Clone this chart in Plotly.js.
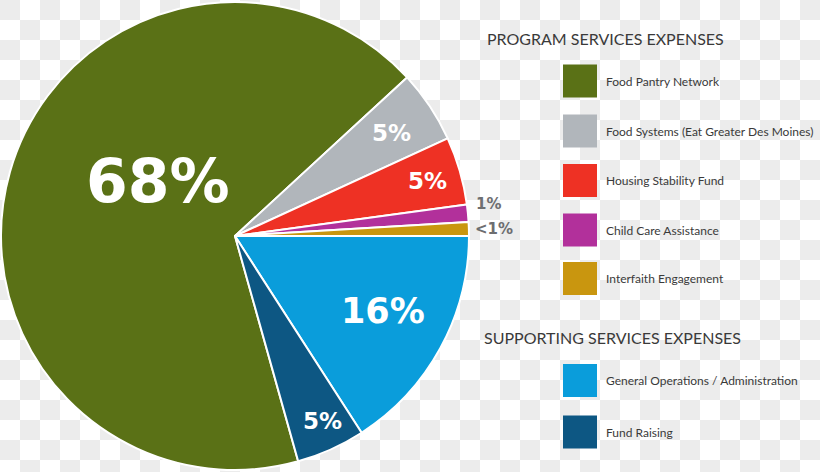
<!DOCTYPE html>
<html>
<head>
<meta charset="utf-8">
<script src="https://cdn.plot.ly/plotly-3.0.1.min.js"></script>
<style>
  html, body { margin: 0; padding: 0; }
  body {
    width: 820px; height: 472px; overflow: hidden;
    background-color: #ffffff;
    background-image: conic-gradient(#ffffff 0 25%, #ececec 0 50%, #ffffff 0 75%, #ececec 0);
    background-size: 40px 40px;
  }
  #chart { width: 820px; height: 472px; }
</style>
</head>
<body>
<div id="chart"></div>
<script>
// ---- Data ----
var categories = [
  "Food Pantry Network",
  "Food Systems (Eat Greater Des Moines)",
  "Housing Stability Fund",
  "Child Care Assistance",
  "Interfaith Engagement",
  "General Operations / Administration",
  "Fund Raising"
];
var values = [67.5, 5.0, 4.7, 1.2, 0.95, 15.9, 4.75];
var sliceLabels = ["68%", "5%", "5%", "1%", "<1%", "16%", "5%"];
var colors = ["#5a7116", "#b1b6bb", "#ee3124", "#b2309b", "#c9960f", "#0a9ddb", "#0d5783"];
var groups = ["PROGRAM SERVICES EXPENSES", "SUPPORTING SERVICES EXPENSES"];
var groupOf = [0, 0, 0, 0, 0, 1, 1];

// ---- Layout helpers ----
var W = 820, H = 472;
function px(x) { return x / W; }
function py(y) { return 1 - y / H; }

// rotation so that the program/supporting boundary sits at 3 o'clock
var total = values.reduce(function (a, b) { return a + b; }, 0);
var cumProgram = 0;
for (var i = 0; i < values.length; i++) if (groupOf[i] === 0) cumProgram += values[i];
var rot = 90 - 360 * cumProgram / total;
while (rot < -180) rot += 360;
while (rot > 180) rot -= 360;

var trace = {
  type: "pie",
  labels: categories,
  values: values,
  textinfo: "none",
  sort: false,
  direction: "clockwise",
  rotation: rot,
  marker: { colors: colors, line: { color: "#ffffff", width: 2 } },
  domain: { x: [px(1), px(469)], y: [py(470), py(2)] },
  showlegend: false,
  hoverinfo: "label+percent"
};

// ---- Slice labels (placement style) ----
var labelPos = [[158, 181], [391, 133], [427, 181], [488, 204], [494, 229], [383, 311], [322, 421]];
var labelSize = [60, 23, 23, 15, 15, 35, 23];
var shapes = [], annotations = [];
sliceLabels.forEach(function (t, k) {
  var outside = values[k] < 2;
  annotations.push({
    xref: "paper", yref: "paper", x: px(labelPos[k][0]), y: py(labelPos[k][1]),
    xanchor: "center", yanchor: "middle", showarrow: false, text: t,
    font: { family: "DejaVu Sans", size: labelSize[k], weight: "bold",
            color: outside ? "#6d6e71" : "#ffffff" }
  });
});

// ---- Custom legend (swatches + labels) ----
var headerY = [38, 337];
var headerX = [485, 482];
groups.forEach(function (g, k) {
  annotations.push({
    xref: "paper", yref: "paper", x: px(headerX[k]), y: py(headerY[k]),
    xanchor: "left", yanchor: "middle", showarrow: false, text: g,
    font: { family: "Lato", size: 16, color: "#3a3a3a" }
  });
});
var rowY = [81, 131, 180.5, 230, 278.5, 380.5, 432];
categories.forEach(function (c, k) {
  var y = rowY[k];
  shapes.push({
    type: "rect", xref: "paper", yref: "paper",
    x0: px(563), x1: px(597), y0: py(y - 16.5), y1: py(y + 16.5),
    fillcolor: colors[k], line: { width: 0 }
  });
  annotations.push({
    xref: "paper", yref: "paper", x: px(604), y: py(y),
    xanchor: "left", yanchor: "middle", showarrow: false, text: c,
    font: { family: "Lato", size: 12, color: "#3a3a3a" }
  });
});

var layout = {
  width: W, height: H,
  margin: { l: 0, r: 0, t: 0, b: 0 },
  paper_bgcolor: "rgba(0,0,0,0)",
  plot_bgcolor: "rgba(0,0,0,0)",
  showlegend: false,
  shapes: shapes,
  annotations: annotations
};

Plotly.newPlot("chart", [trace], layout, { displayModeBar: false, staticPlot: true });
</script>
</body>
</html>
